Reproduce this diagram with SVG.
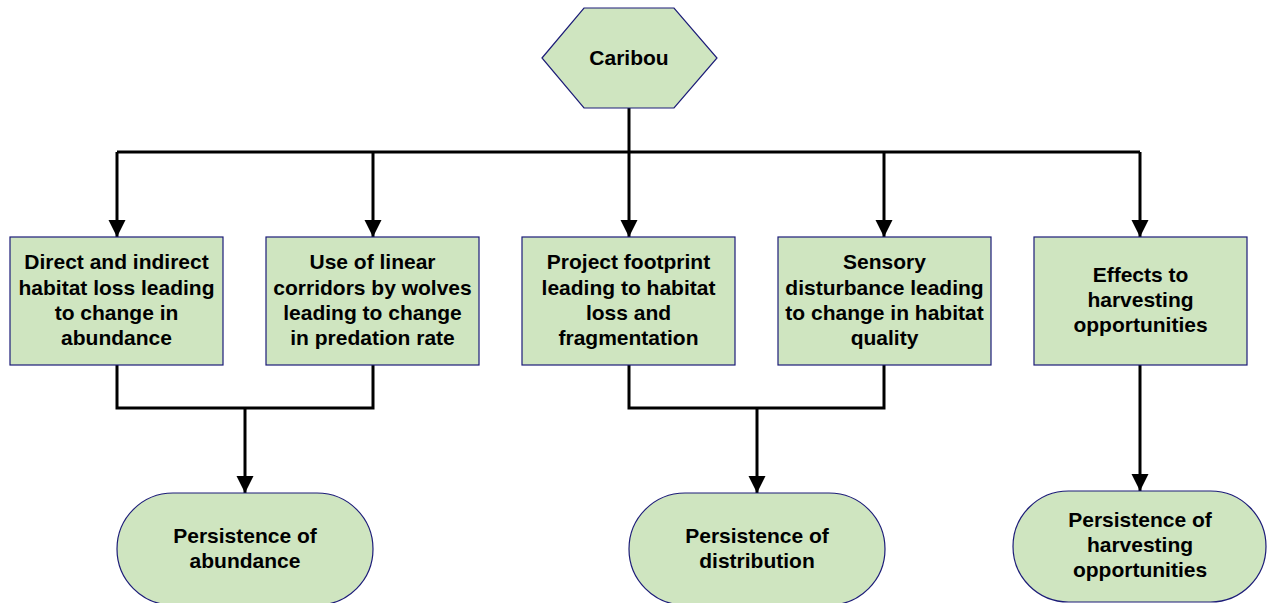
<svg xmlns="http://www.w3.org/2000/svg" width="1267" height="603" viewBox="0 0 1267 603">
<defs>
<style>
.n{fill:#cfe5c0;stroke:#1c1c78;stroke-width:1.2}
.t{font-family:"Liberation Sans",Arial,sans-serif;font-weight:bold;font-size:21px;fill:#000;text-anchor:middle}
.c{fill:none;stroke:#000;stroke-width:3}
</style>
<marker id="ah" markerUnits="userSpaceOnUse" markerWidth="18" markerHeight="18" refX="17" refY="8.5" orient="auto">
<path d="M0,0 L17,8.5 L0,17 z" fill="#000"/>
</marker>
</defs>
<rect width="1267" height="603" fill="#fff"/>
<g id="connectors">
<path class="c" d="M629,108 V152"/>
<path class="c" d="M117,152 H1140"/>
<path class="c" d="M117,152 V237" marker-end="url(#ah)"/>
<path class="c" d="M373,152 V237" marker-end="url(#ah)"/>
<path class="c" d="M629,152 V237" marker-end="url(#ah)"/>
<path class="c" d="M884,152 V237" marker-end="url(#ah)"/>
<path class="c" d="M1140,152 V237" marker-end="url(#ah)"/>
<path class="c" d="M117,365 V408 H373 V365"/>
<path class="c" d="M245,408 V493" marker-end="url(#ah)"/>
<path class="c" d="M629,365 V408 H884 V365"/>
<path class="c" d="M757,408 V493" marker-end="url(#ah)"/>
<path class="c" d="M1140,365 V491" marker-end="url(#ah)"/>
</g>
<g id="caribou">
<polygon class="n" points="542,58 584,8 674,8 717,58 674,108 584,108"/>
<text class="t" x="629" y="65">Caribou</text>
</g>
<g id="box1">
<rect class="n" x="10" y="237" width="213" height="128"/>
<text class="t" x="116.5" y="269">Direct and indirect</text>
<text class="t" x="116.5" y="295">habitat loss leading</text>
<text class="t" x="116.5" y="320">to change in</text>
<text class="t" x="116.5" y="345">abundance</text>
</g>
<g id="box2">
<rect class="n" x="266" y="237" width="213" height="128"/>
<text class="t" x="372.5" y="269">Use of linear</text>
<text class="t" x="372.5" y="295">corridors by wolves</text>
<text class="t" x="372.5" y="320">leading to change</text>
<text class="t" x="372.5" y="345">in predation rate</text>
</g>
<g id="box3">
<rect class="n" x="522" y="237" width="213" height="128"/>
<text class="t" x="628.5" y="269">Project footprint</text>
<text class="t" x="628.5" y="295">leading to habitat</text>
<text class="t" x="628.5" y="320">loss and</text>
<text class="t" x="628.5" y="345">fragmentation</text>
</g>
<g id="box4">
<rect class="n" x="778" y="237" width="213" height="128"/>
<text class="t" x="884.5" y="269">Sensory</text>
<text class="t" x="884.5" y="295">disturbance leading</text>
<text class="t" x="884.5" y="320">to change in habitat</text>
<text class="t" x="884.5" y="345">quality</text>
</g>
<g id="box5">
<rect class="n" x="1034" y="237" width="213" height="128"/>
<text class="t" x="1140.5" y="282">Effects to</text>
<text class="t" x="1140.5" y="307">harvesting</text>
<text class="t" x="1140.5" y="332">opportunities</text>
</g>
<g id="outcome1">
<rect class="n" x="117" y="493" width="256" height="112" rx="56" ry="56"/>
<text class="t" x="245" y="543">Persistence of</text>
<text class="t" x="245" y="568">abundance</text>
</g>
<g id="outcome2">
<rect class="n" x="629" y="493" width="256" height="112" rx="56" ry="56"/>
<text class="t" x="757" y="543">Persistence of</text>
<text class="t" x="757" y="568">distribution</text>
</g>
<g id="outcome3">
<rect class="n" x="1013" y="491" width="253" height="111" rx="55.5" ry="55.5"/>
<text class="t" x="1140" y="527">Persistence of</text>
<text class="t" x="1140" y="552">harvesting</text>
<text class="t" x="1140" y="577">opportunities</text>
</g>
</svg>
